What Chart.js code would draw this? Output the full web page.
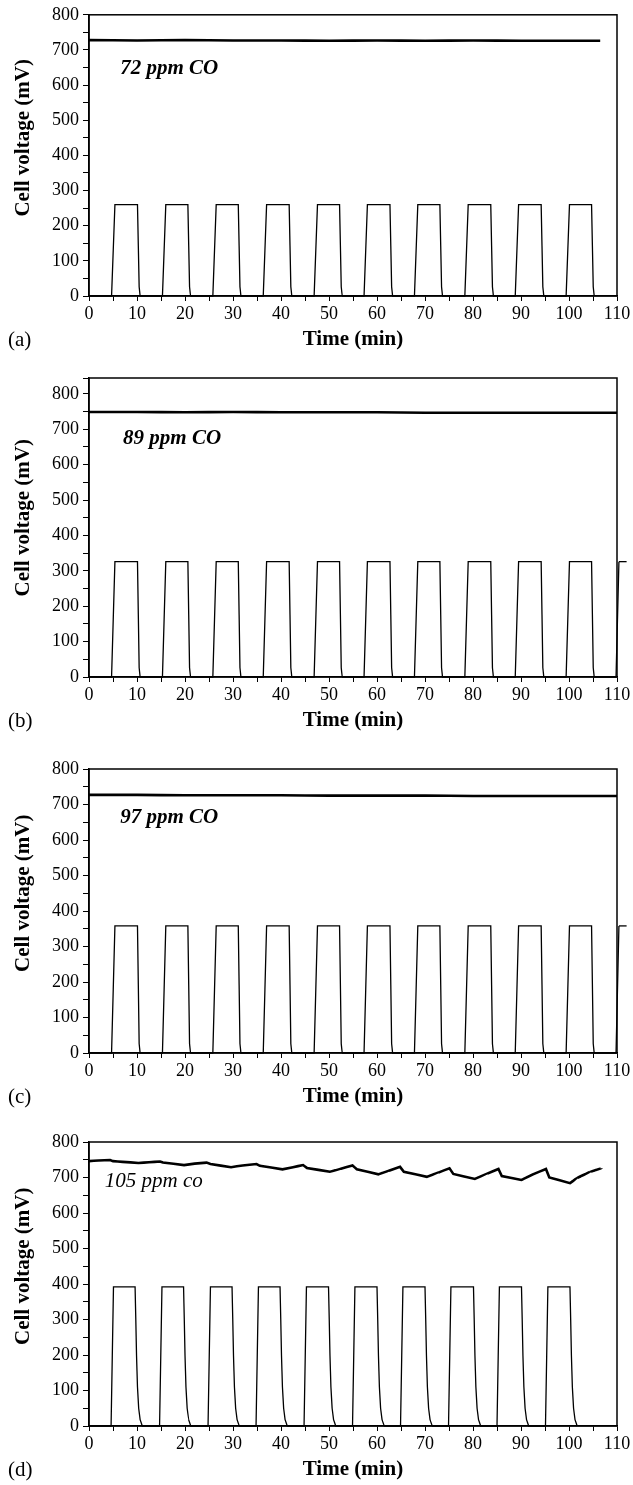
<!DOCTYPE html>
<html>
<head>
<meta charset="utf-8">
<title>Cell voltage under CO pulses</title>
<script src="https://cdn.jsdelivr.net/npm/chart.js@4.4.0/dist/chart.umd.min.js"></script>
<style>
  html, body { margin: 0; padding: 0; background: #fff; }
  body { width: 633px; height: 1485px; position: relative; overflow: hidden; }
  canvas { position: absolute; left: 0; }
</style>
</head>
<body>
<canvas id="panel-a" width="633" height="356" style="top:0px"></canvas>
<canvas id="panel-b" width="633" height="381" style="top:356px"></canvas>
<canvas id="panel-c" width="633" height="376" style="top:737px"></canvas>
<canvas id="panel-d" width="633" height="373" style="top:1113px"></canvas>
<script>
// pulse edges (min), runs a-c share the same timing
const riseTimes = [4.7, 15.3, 25.8, 36.3, 46.9, 57.3, 67.8, 78.3, 88.8, 99.4];
const fallTimes = [10.1, 20.6, 31.1, 41.7, 52.2, 62.7, 73.1, 83.7, 94.2, 104.7];
// pulse edges (min) for run d
const riseTimesD = [4.6, 14.7, 24.8, 34.8, 44.8, 54.9, 64.9, 74.9, 85.0, 95.1];
const fallTimesD = [9.6, 19.7, 29.8, 39.8, 49.9, 60.0, 70.0, 80.1, 90.1, 100.2];
// pulse plateau (mV) for a, b, c, d
const pulseLevels = [260, 326, 358, 392];
// rise time of a pulse (min)
const riseRamp = [0.7, 0.7, 0.7, 0.5];
// fall tails after the plateau ends: [min after fall, mV]
const tailShort = [[0.35, 26], [0.55, 0]];
const tailLong = [[0.15, 300], [0.3, 200], [0.5, 110], [0.75, 50], [1.05, 18], [1.5, 0]];
// last pulse in b and c starts right at the end of the axis
const trailTimes = [109.8, 110.4, 112.0];

// upper trace, runs a-c
const timeFlatA = [0, 10, 20, 30, 40, 50, 60, 70, 80, 90, 100, 106.5];
const voltFlatA = [728, 727, 728, 727, 727, 726, 727, 726, 727, 726, 726, 726];
const timeFlatB = [0, 10, 20, 30, 40, 50, 60, 70, 80, 90, 100, 110];
const voltFlatB = [749, 749, 748, 749, 748, 748, 748, 747, 747, 747, 747, 747];
const timeFlatC = [0, 10, 20, 30, 40, 50, 60, 70, 80, 90, 100, 110];
const voltFlatC = [727, 727, 726, 726, 726, 725, 725, 725, 724, 724, 724, 724];
// upper trace, run d (sawtooth)
const timeD = [0, 2, 4.4, 5.0, 7, 10.3, 12.5, 14.8, 15.4, 19.8, 22, 24.5, 25.3, 29.6, 32, 34.9,
  35.6, 40.3, 42.5, 44.6, 45.4, 50.2, 52.5, 54.9, 55.8, 60.3, 62.5, 64.8, 65.6, 70.4, 72.8,
  75.1, 75.9, 80.4, 83, 85.3, 86.0, 90.1, 92.5, 95.2, 95.9, 100.2, 101.6, 104.4, 106.8];
const voltD = [746, 748, 749, 746, 744, 741, 743, 745, 742, 735, 739, 742, 738, 729, 734, 738,
  733, 723, 729, 735, 727, 716, 725, 734, 723, 709, 719, 730, 716, 702, 714,
  726, 710, 696, 711, 724, 704, 693, 709, 724, 700, 684, 698, 716, 726];

const coLabels = ['72 ppm CO', '89 ppm CO', '97 ppm CO', '105 ppm co'];
const panelTags = ['(a)', '(b)', '(c)', '(d)'];
const yMax = [800, 845, 800, 800];

const serif = '"Liberation Serif", "Times New Roman", serif';

const toPoints = (xs, ys) => xs.map((x, i) => ({ x: x, y: ys[i] }));

const pulseTrain = (rises, falls, level, ramp, tail, trail) => {
  const pts = [{ x: 0, y: 0 }];
  rises.forEach((r, i) => {
    pts.push({ x: r, y: 0 }, { x: r + ramp, y: level }, { x: falls[i], y: level });
    tail.forEach(([dt, v]) => pts.push({ x: falls[i] + dt, y: v }));
  });
  if (trail) {
    pts.push({ x: trail[0], y: 0 }, { x: trail[1], y: level });
  }
  return pts;
};

// top of the pulse that runs past the axis end; listed right to left so
// the line controller keeps both points even though they lie beyond x max
const trailTop = (trail, level) => [{ x: trail[2], y: level }, { x: trail[1], y: level }];

// frame, note, panel tag and rotated y title
const panelText = {
  id: 'panelText',
  afterDraw(chart, args, opts) {
    const { ctx, chartArea, scales } = chart;
    ctx.save();
    ctx.strokeStyle = '#000';
    ctx.lineWidth = 1.5;
    ctx.strokeRect(chartArea.left, chartArea.top,
      chartArea.right - chartArea.left, chartArea.bottom - chartArea.top);
    ctx.fillStyle = '#000';
    ctx.textAlign = 'left';
    ctx.textBaseline = 'middle';
    ctx.font = opts.noteFont;
    ctx.fillText(opts.note, scales.x.getPixelForValue(opts.noteAt[0]),
      scales.y.getPixelForValue(opts.noteAt[1]));
    ctx.font = '21px ' + serif;
    ctx.fillText(opts.tag, 8, chartArea.bottom + 44);
    ctx.translate(24, scales.y.getPixelForValue(450));
    ctx.rotate(-Math.PI / 2);
    ctx.textAlign = 'center';
    ctx.font = 'bold 21px ' + serif;
    ctx.fillText('Cell voltage (mV)', 0, 0);
    ctx.restore();
  }
};

const lineStyle = (width) => ({
  borderColor: '#000',
  borderWidth: width,
  pointRadius: 0,
  tension: 0.000001, // keeps the plain path (no pixel-column merging)
  clip: false,
});

const makePanel = (id, padTop, upper, pulses, extra, yTop, note, noteFont, noteAt, tag) => {
  const datasets = [
    Object.assign({ data: upper }, lineStyle(2.6)),
    Object.assign({ data: pulses }, lineStyle(1.3)),
  ];
  if (extra) datasets.push(Object.assign({ data: extra }, lineStyle(1.3)));
  return new Chart(document.getElementById(id), {
    type: 'line',
    plugins: [panelText],
    data: { datasets: datasets },
    options: {
      responsive: false,
      animation: false,
      devicePixelRatio: 1,
      events: [],
      layout: { padding: { top: padTop, right: 16, left: 0, bottom: 0 } },
      plugins: {
        legend: { display: false },
        tooltip: { enabled: false },
        panelText: { note: note, noteFont: noteFont, noteAt: noteAt, tag: tag },
      },
      scales: {
        x: {
          type: 'linear',
          min: 0,
          max: 110,
          bounds: 'data',
          afterFit: (s) => { s.height = 60; },
          border: { color: '#000', width: 1.5 },
          grid: { drawOnChartArea: false, drawTicks: true, tickLength: 5, color: '#000' },
          ticks: {
            stepSize: 5,
            autoSkip: false,
            maxRotation: 0,
            padding: 2,
            color: '#000',
            font: { family: serif, size: 18 },
            callback: (v) => (v % 10 === 0 ? v : ''),
          },
          title: {
            display: true,
            text: 'Time (min)',
            color: '#000',
            font: { family: serif, size: 21, weight: 'bold' },
            padding: { top: 0, bottom: 3.4 },
          },
        },
        y: {
          min: 0,
          max: yTop,
          bounds: 'data',
          afterFit: (s) => { s.width = 89; },
          border: { color: '#000', width: 1.5 },
          grid: { drawOnChartArea: false, drawTicks: true, tickLength: 6, color: '#000' },
          ticks: {
            stepSize: 50,
            includeBounds: false,
            autoSkip: false,
            padding: 4,
            color: '#000',
            font: { family: serif, size: 18 },
            callback: (v) => (v % 100 === 0 ? v : ''),
          },
        },
      },
    },
  });
};

const boldItalic = 'italic bold 21px ' + serif;
const italic = 'italic 21px ' + serif;

makePanel('panel-a', 13, toPoints(timeFlatA, voltFlatA),
  pulseTrain(riseTimes, fallTimes, pulseLevels[0], riseRamp[0], tailShort), null,
  yMax[0], coLabels[0], boldItalic, [6.5, 647], panelTags[0]);

makePanel('panel-b', 22, toPoints(timeFlatB, voltFlatB),
  pulseTrain(riseTimes, fallTimes, pulseLevels[1], riseRamp[1], tailShort, trailTimes),
  trailTop(trailTimes, pulseLevels[1]),
  yMax[1], coLabels[1], boldItalic, [7.1, 675], panelTags[1]);

makePanel('panel-c', 32, toPoints(timeFlatC, voltFlatC),
  pulseTrain(riseTimes, fallTimes, pulseLevels[2], riseRamp[2], tailShort, trailTimes),
  trailTop(trailTimes, pulseLevels[2]),
  yMax[2], coLabels[2], boldItalic, [6.5, 664], panelTags[2]);

makePanel('panel-d', 29, toPoints(timeD, voltD),
  pulseTrain(riseTimesD, fallTimesD, pulseLevels[3], riseRamp[3], tailLong), null,
  yMax[3], coLabels[3], italic, [3.3, 688], panelTags[3]);
</script>
</body>
</html>
